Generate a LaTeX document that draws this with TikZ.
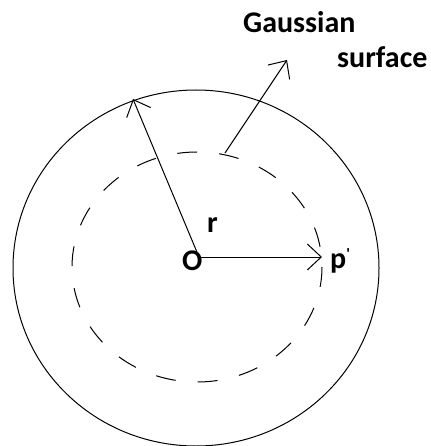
\documentclass[tikz,border=0pt]{standalone}
\usepackage{fontspec}
\setmainfont{Carlito}
\usetikzlibrary{arrows.meta}

\tikzset{lbl/.style={font=\bfseries\fontsize{30}{34}\selectfont, inner sep=0pt, anchor=base west},
  barb/.style={line width=1pt, -{Straight Barb[length=14pt,width=26pt,line width=1pt]}}}

\begin{document}
\begin{tikzpicture}[x=1pt,y=-1pt]
\useasboundingbox (0,0) rectangle (430,446);
\coordinate (c) at (199,257);
\coordinate (rim) at (133,99);
\coordinate (pp) at (322,257);
\coordinate (gs) at (225,153);
\coordinate (gt) at (287,60);
\draw[line width=1pt] (196,268) ellipse [x radius=183, y radius=178];
\draw[line width=1pt, dash pattern=on 20pt off 22pt] (197,267) ellipse [x radius=125, y radius=115];
\draw[barb] (c)--(rim);
\draw[barb] (c)--(pp);
\draw[barb] (gs)--(gt);
\node[lbl] (O) at (182,270){O};
\node[lbl] (r) at (207,232){r};
\node[lbl] (p) at (330,268){p\raisebox{9pt}{\fontsize{16}{16}\selectfont\textquotesingle}};
\node[lbl] (g1) at (243,33){Gaussian};
\node[lbl] (g2) at (337,68){surface};
\end{tikzpicture}
\end{document}
